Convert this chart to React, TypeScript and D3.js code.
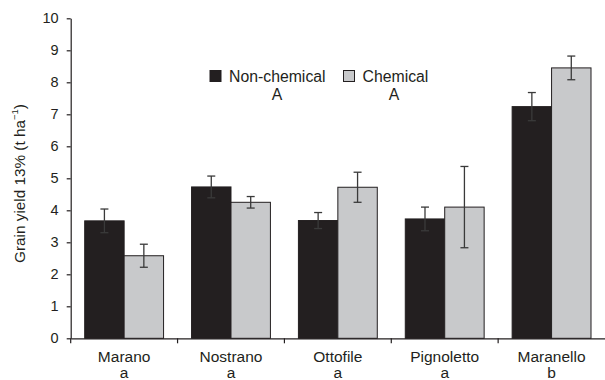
import { useEffect, useRef } from 'react';
import * as d3 from 'd3';

const categories = ['Marano', 'Nostrano', 'Ottofile', 'Pignoletto', 'Maranello'];
const letters = ['a', 'a', 'a', 'a', 'b'];
const nonChemical = [3.67, 4.73, 3.68, 3.73, 7.24];
const nonChemicalErr = [0.37, 0.34, 0.25, 0.37, 0.44];
const chemical = [2.58, 4.25, 4.72, 4.1, 8.45];
const chemicalErr = [0.36, 0.18, 0.47, 1.27, 0.37];
const yTicks = [0, 1, 2, 3, 4, 5, 6, 7, 8, 9, 10];

const App = () => {
  const svgRef = useRef<SVGSVGElement>(null);

  useEffect(() => {
    const width = 605;
    const height = 380;
    const margin = { top: 18.3, right: 0, bottom: 41.7, left: 70.7 };

    const svg = d3.select(svgRef.current)
      .attr('width', width)
      .attr('height', height);
    svg.selectAll('*').remove();

    const font = '"Liberation Sans", Arial, sans-serif';
    const ink = '#231f20';

    const x = d3.scaleBand()
      .domain(categories)
      .range([margin.left, width - margin.right])
      .paddingInner(0)
      .paddingOuter(0);

    const y = d3.scaleLinear()
      .domain([0, 10])
      .range([height - margin.bottom, margin.top]);

    const sub = d3.scaleBand()
      .domain(['nc', 'c'])
      .range([0, x.bandwidth()])
      .paddingInner(0)
      .paddingOuter(0.355);

    // bars
    const series = [
      { key: 'nc', values: nonChemical, errs: nonChemicalErr, fill: ink },
      { key: 'c', values: chemical, errs: chemicalErr, fill: '#c8c9cb' },
    ];

    series.forEach(s => {
      categories.forEach((cat, i) => {
        const x0 = (x(cat) ?? 0) + (sub(s.key) ?? 0);
        const v = s.values[i];
        svg.append('rect')
          .attr('x', x0)
          .attr('y', y(v))
          .attr('width', sub.bandwidth())
          .attr('height', y(0) - y(v))
          .attr('fill', s.fill)
          .attr('stroke', ink)
          .attr('stroke-width', 1);
      });
    });

    // error bars
    series.forEach(s => {
      categories.forEach((cat, i) => {
        const cx = (x(cat) ?? 0) + (sub(s.key) ?? 0) + sub.bandwidth() / 2;
        const v = s.values[i];
        const e = s.errs[i];
        const g = svg.append('g')
          .attr('stroke', '#3a3a3a')
          .attr('stroke-width', 1.3);
        g.append('line')
          .attr('x1', cx).attr('x2', cx)
          .attr('y1', y(v + e)).attr('y2', y(v - e));
        [v + e, v - e].forEach(t => {
          g.append('line')
            .attr('x1', cx - 4).attr('x2', cx + 4)
            .attr('y1', y(t)).attr('y2', y(t));
        });
      });
    });

    // y axis
    const yAxis = svg.append('g')
      .attr('transform', `translate(${margin.left},0)`)
      .call(d3.axisLeft(y).tickValues(yTicks).tickSize(4).tickSizeOuter(0).tickPadding(8));
    yAxis.select('.domain').attr('stroke', ink).attr('stroke-width', 1.2);
    yAxis.selectAll('.tick line').attr('stroke', ink).attr('stroke-width', 1.2);
    yAxis.selectAll('.tick text')
      .attr('font-family', font)
      .attr('font-size', 14.5)
      .attr('fill', ink);

    // x axis
    const xAxis = svg.append('g')
      .attr('transform', `translate(0,${y(0)})`)
      .call(d3.axisBottom(x).tickSize(0).tickFormat(() => ''));
    xAxis.select('.domain').attr('stroke', ink).attr('stroke-width', 1.2);
    xAxis.selectAll('.tick').remove();

    // category boundary ticks
    const bounds = categories.map(c => x(c) ?? 0);
    svg.selectAll('line.xtick')
      .data(bounds)
      .enter()
      .append('line')
      .attr('class', 'xtick')
      .attr('x1', d => d).attr('x2', d => d)
      .attr('y1', y(0)).attr('y2', y(0) + 5)
      .attr('stroke', ink)
      .attr('stroke-width', 1.2);

    // category labels
    categories.forEach((cat, i) => {
      const cx = (x(cat) ?? 0) + x.bandwidth() / 2;
      svg.append('text')
        .attr('x', cx).attr('y', 362)
        .attr('text-anchor', 'middle')
        .attr('font-family', font).attr('font-size', 15.5)
        .attr('fill', ink)
        .text(cat);
      svg.append('text')
        .attr('x', cx).attr('y', 378)
        .attr('text-anchor', 'middle')
        .attr('font-family', font).attr('font-size', 15.5)
        .attr('fill', ink)
        .text(letters[i]);
    });

    // y label
    const yl = svg.append('text')
      .attr('transform', `translate(24.5,183.5) rotate(-90)`)
      .attr('text-anchor', 'middle')
      .attr('font-family', font).attr('font-size', 15.3)
      .attr('fill', ink);
    yl.append('tspan').text('Grain yield 13% (t ha');
    yl.append('tspan').attr('dy', -7).attr('font-size', 9.5).text('−1');
    yl.append('tspan').attr('dy', 7).text(')');

    // legend
    const legend = [
      { label: 'Non-chemical', fill: ink, x: 210, letter: 'A', lx: 277 },
      { label: 'Chemical', fill: '#c8c9cb', x: 343.5, letter: 'A', lx: 394 },
    ];
    legend.forEach(l => {
      svg.append('rect')
        .attr('x', l.x).attr('y', 70.5)
        .attr('width', 11).attr('height', 11)
        .attr('fill', l.fill)
        .attr('stroke', ink).attr('stroke-width', 1);
      svg.append('text')
        .attr('x', l.x + 19).attr('y', 81.5)
        .attr('font-family', font).attr('font-size', 15.8)
        .attr('fill', ink)
        .text(l.label);
      svg.append('text')
        .attr('x', l.lx).attr('y', 99.5)
        .attr('text-anchor', 'middle')
        .attr('font-family', font).attr('font-size', 15.8)
        .attr('fill', ink)
        .text(l.letter);
    });
  }, []);

  return (
    <svg ref={svgRef} style={{ position: 'absolute', left: 0, top: 0, background: '#fff' }}></svg>
  );
};

export default App;
